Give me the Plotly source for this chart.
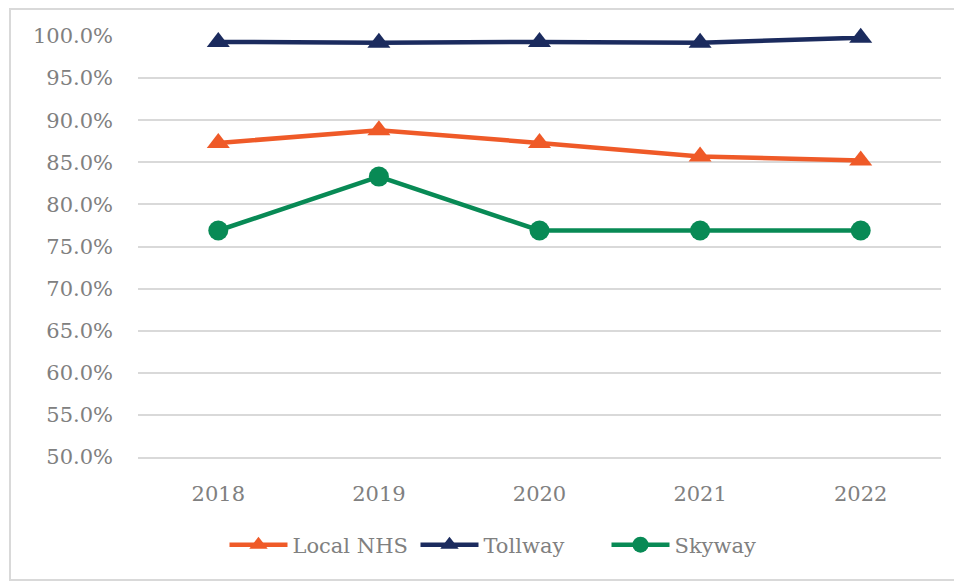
import plotly.graph_objects as go

years = ["2018", "2019", "2020", "2021", "2022"]
local_nhs = [87.3, 88.8, 87.3, 85.7, 85.2]
tollway = [99.3, 99.2, 99.3, 99.2, 99.8]
skyway = [76.9, 83.3, 76.9, 76.9, 76.9]

FONT = "DejaVu Serif"
GREY = "#808080"
GRID = "#d9d9d9"

fig = go.Figure()
fig.add_trace(
    go.Scatter(
        x=years,
        y=local_nhs,
        mode="lines+markers",
        name="Local NHS",
        line={"color": "#ef5a28", "width": 4.5},
        marker={"symbol": "triangle-up", "size": 20, "color": "#ef5a28"},
        cliponaxis=False,
    )
)
fig.add_trace(
    go.Scatter(
        x=years,
        y=tollway,
        mode="lines+markers",
        name="Tollway",
        line={"color": "#1b2b5e", "width": 4.5},
        marker={"symbol": "triangle-up", "size": 20, "color": "#1b2b5e"},
        cliponaxis=False,
    )
)
fig.add_trace(
    go.Scatter(
        x=years,
        y=skyway,
        mode="lines+markers",
        name="Skyway",
        line={"color": "#088a55", "width": 4.5},
        marker={"symbol": "circle", "size": 20, "color": "#088a55"},
        cliponaxis=False,
    )
)

# outer chart border
fig.add_shape(
    type="rect",
    xref="paper",
    yref="paper",
    x0=-0.1594,
    x1=1.04,
    y0=-0.292,
    y1=1.064,
    line={"color": GRID, "width": 2},
    layer="below",
)

# page body has an 8px margin, so the figure is a bit smaller than the window
fig.update_layout(
    width=954,
    height=574,
    margin={"l": 130, "r": 21, "t": 28, "b": 125},
    plot_bgcolor="white",
    paper_bgcolor="white",
    font={"family": FONT, "color": GREY, "size": 21},
    showlegend=True,
    legend={
        "orientation": "h",
        "x": 0.4645,
        "xanchor": "center",
        "y": -0.209,
        "yanchor": "middle",
        "font": {"size": 21, "color": GREY},
        "itemwidth": 58,
        "entrywidth": 118,
        "entrywidthmode": "pixels",
    },
)
fig.update_yaxes(
    range=[50, 100],
    dtick=5,
    tickformat=".1f",
    ticksuffix="%",
    showgrid=True,
    gridcolor=GRID,
    gridwidth=2,
    zeroline=False,
    ticks="",
    ticklabelstandoff=24,
    tickfont={"size": 21, "color": GREY},
)
fig.update_xaxes(
    type="category",
    range=[-0.5, 4.5],
    showgrid=False,
    showline=True,
    linecolor=GRID,
    linewidth=2,
    ticks="",
    ticklabelstandoff=17,
    tickfont={"size": 21, "color": GREY},
)

fig.write_html("out.html")
